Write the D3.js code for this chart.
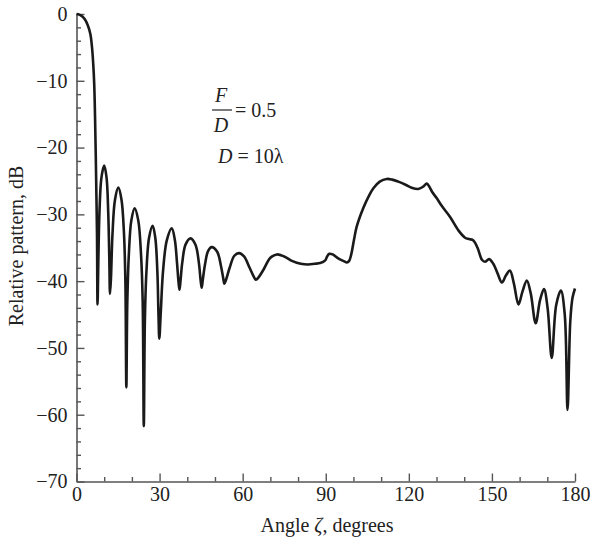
<!DOCTYPE html>
<html>
<head>
<meta charset="utf-8">
<script src="https://cdn.jsdelivr.net/npm/d3@7/dist/d3.min.js"></script>
<style>
  html, body { margin: 0; padding: 0; background: #fff; }
  svg { display: block; }
  text { font-family: "Liberation Serif", "Times New Roman", serif; fill: #222; }
</style>
</head>
<body>
<svg id="chart" width="590" height="540"></svg>
<script>
// Angle (degrees) and relative pattern (dB)
const angles = [
  0, 1, 2, 3, 4, 5, 5.6, 6.0, 6.4, 6.7, 6.95, 7.2, 7.4, 7.6,
  7.9, 8.3, 9.0, 10.0, 10.85, 11.45, 11.85, 12.1,
  12.45, 13.0, 13.9, 15.1, 16.25, 17.15, 17.65, 18.0,
  18.35, 18.9, 19.8, 21.0, 22.3, 23.3, 23.9, 24.3,
  24.7, 25.25, 26.2, 27.5, 28.45, 29.2, 29.6, 29.9,
  30.45, 31.25, 32.6, 34.4, 35.5, 36.3, 36.85, 37.2,
  37.55, 38.2, 39.4, 41.2, 43.0, 44.2, 44.85, 45.2,
  45.6, 46.4, 47.5, 48.8, 50.8, 52.2, 53.0, 53.4,
  54.0, 55.3, 57.0, 58.7, 60.5, 62.5, 64.1, 64.8,
  65.8, 67.5, 70.0, 72.3, 75.0, 78.0, 81.0, 83.7, 86.0, 88.0,
  89.8, 90.5, 91.3, 92.5, 94.5, 96.5, 97.6, 98.4, 99.2, 100.2, 101.2,
  103.6, 105.5, 107.2, 109.5, 112.0, 114.0, 116.2, 119.0, 121.0, 123.4,
  125.0, 126.5, 127.3, 128.5, 130.1, 132.0, 134.9, 137.9, 140.3, 141.8, 143.3,
  144.8, 146.4, 147.5, 149.0, 150.5, 152.0, 153.6, 155.0, 156.5, 157.9, 159.6,
  161.0, 162.6, 164.0, 165.8, 167.4, 168.8, 170.1, 171.6, 173.2, 174.9,
  176.3, 177.3, 178.3, 179.1, 180.0
];
const patternDb = [
  0, -0.1, -0.35, -0.8, -1.6, -3.0, -5.0, -7.2, -10.5, -15.5, -21.0, -27.5, -33.0, -43.5,
  -36.7, -29.6, -24.5, -22.7, -24.5, -29.6, -36.7, -41.9,
  -39.5, -32.9, -27.8, -26.0, -27.8, -32.9, -40.0, -55.9,
  -43.1, -36.0, -30.9, -29.1, -30.9, -36.0, -43.1, -61.7,
  -45.7, -38.6, -33.5, -31.7, -33.5, -38.6, -45.0, -48.6,
  -44.5, -38.5, -33.9, -32.1, -33.8, -37.3, -40.2, -41.3,
  -40.0, -37.2, -34.5, -33.6, -34.6, -37.3, -40.0, -41.0,
  -39.8, -37.5, -35.5, -34.9, -35.6, -37.8, -39.6, -40.4,
  -39.8, -38.0, -36.2, -35.8, -36.3, -38.0, -39.4, -39.8,
  -39.4, -38.3, -36.5, -36.0, -36.3, -37.0, -37.4, -37.5, -37.4, -37.3,
  -36.9, -36.3, -35.9, -36.0, -36.6, -37.0, -37.2, -37.0, -36.0, -33.8, -31.8,
  -29.0, -27.3, -26.1, -25.1, -24.7, -24.8, -25.1, -25.6, -26.0, -26.2,
  -25.9, -25.4, -25.8, -26.7, -27.6, -28.8, -30.4, -32.4, -33.5, -33.7, -33.9,
  -35.0, -36.8, -37.1, -36.7, -37.4, -38.8, -40.2, -39.2, -38.4, -40.3, -43.5,
  -41.6, -39.9, -41.8, -46.3, -42.8, -41.2, -44.0, -51.5, -43.6, -41.4,
  -45.0, -59.3, -46.0, -42.5, -41.1
];
const xMajorTicks = [0, 30, 60, 90, 120, 150, 180];
const xMinorTicks = [10, 20, 40, 50, 70, 80, 100, 110, 130, 140, 160, 170];
const yMajorTicks = [0, -10, -20, -30, -40, -50, -60, -70];
const yMinorTicks = [-2, -4, -6, -8, -12, -14, -16, -18, -22, -24, -26, -28,
  -32, -34, -36, -38, -42, -44, -46, -48, -52, -54, -56, -58, -62, -64, -66, -68];
const xTitle = ["Angle ", "ζ", ", degrees"];
const yTitle = "Relative pattern, dB";

const svg = d3.select("#chart");
const x = d3.scaleLinear().domain([0, 180]).range([76.5, 575]);
const y = d3.scaleLinear().domain([-70, 0]).range([481.5, 14]);
const axisColor = "#555";
const fs = 20;

// minor ticks
svg.append("g").attr("transform", `translate(0,${y(-70)})`)
  .call(d3.axisBottom(x).tickValues(xMinorTicks).tickSizeInner(-4.5).tickSizeOuter(0).tickFormat(""))
  .call(g => g.select(".domain").remove())
  .call(g => g.selectAll("line").attr("stroke", axisColor).attr("stroke-width", 1.4));
svg.append("g").attr("transform", `translate(${x(0)},0)`)
  .call(d3.axisLeft(y).tickValues(yMinorTicks).tickSizeInner(-4.5).tickSizeOuter(0).tickFormat(""))
  .call(g => g.select(".domain").remove())
  .call(g => g.selectAll("line").attr("stroke", axisColor).attr("stroke-width", 1.4));

// major axes
const xAxis = svg.append("g").attr("transform", `translate(0,${y(-70)})`)
  .call(d3.axisBottom(x).tickValues(xMajorTicks).tickSizeInner(-8).tickSizeOuter(0).tickPadding(5).tickFormat(d3.format("d")));
const yAxis = svg.append("g").attr("transform", `translate(${x(0)},0)`)
  .call(d3.axisLeft(y).tickValues(yMajorTicks).tickSizeInner(-8).tickSizeOuter(0).tickPadding(9).tickFormat(d => d === 0 ? "0" : "\u2212" + Math.abs(d)));
[xAxis, yAxis].forEach(g => {
  g.select(".domain").attr("stroke", axisColor).attr("stroke-width", 1.6);
  g.selectAll(".tick line").attr("stroke", axisColor).attr("stroke-width", 1.4);
  g.selectAll(".tick text").attr("font-size", fs).attr("fill", "#222")
    .attr("font-family", '"Liberation Serif", "Times New Roman", serif');
});

// curve
const pts = angles.map((a, i) => [a, patternDb[i]]);
const line = d3.line().x(d => x(d[0])).y(d => y(d[1])).curve(d3.curveCatmullRom.alpha(0.5));
svg.append("path").datum(pts).attr("d", line)
  .attr("fill", "none").attr("stroke", "#1a1a1a").attr("stroke-width", 2.6)
  .attr("stroke-linejoin", "round");

// axis titles
const xt = svg.append("text").attr("x", 327).attr("y", 532).attr("text-anchor", "middle").attr("font-size", fs);
xt.append("tspan").text(xTitle[0]);
xt.append("tspan").attr("font-style", "italic").text(xTitle[1]);
xt.append("tspan").text(xTitle[2]);
svg.append("text").attr("transform", "translate(23,246) rotate(-90)")
  .attr("text-anchor", "middle").attr("font-size", fs).text(yTitle);

// annotation
const ann = svg.append("g");
ann.append("text").attr("x", 221).attr("y", 102).attr("text-anchor", "middle")
  .attr("font-size", fs).attr("font-style", "italic").text("F");
ann.append("line").attr("x1", 212).attr("x2", 232).attr("y1", 110).attr("y2", 110)
  .attr("stroke", "#222").attr("stroke-width", 1.2);
ann.append("text").attr("x", 221).attr("y", 131.5).attr("text-anchor", "middle")
  .attr("font-size", fs).attr("font-style", "italic").text("D");
ann.append("text").attr("x", 235).attr("y", 117).attr("font-size", fs).text("= 0.5");
const t2 = ann.append("text").attr("x", 218).attr("y", 163).attr("font-size", fs);
t2.append("tspan").attr("font-style", "italic").text("D");
t2.append("tspan").text(" = 10λ");
</script>
</body>
</html>
